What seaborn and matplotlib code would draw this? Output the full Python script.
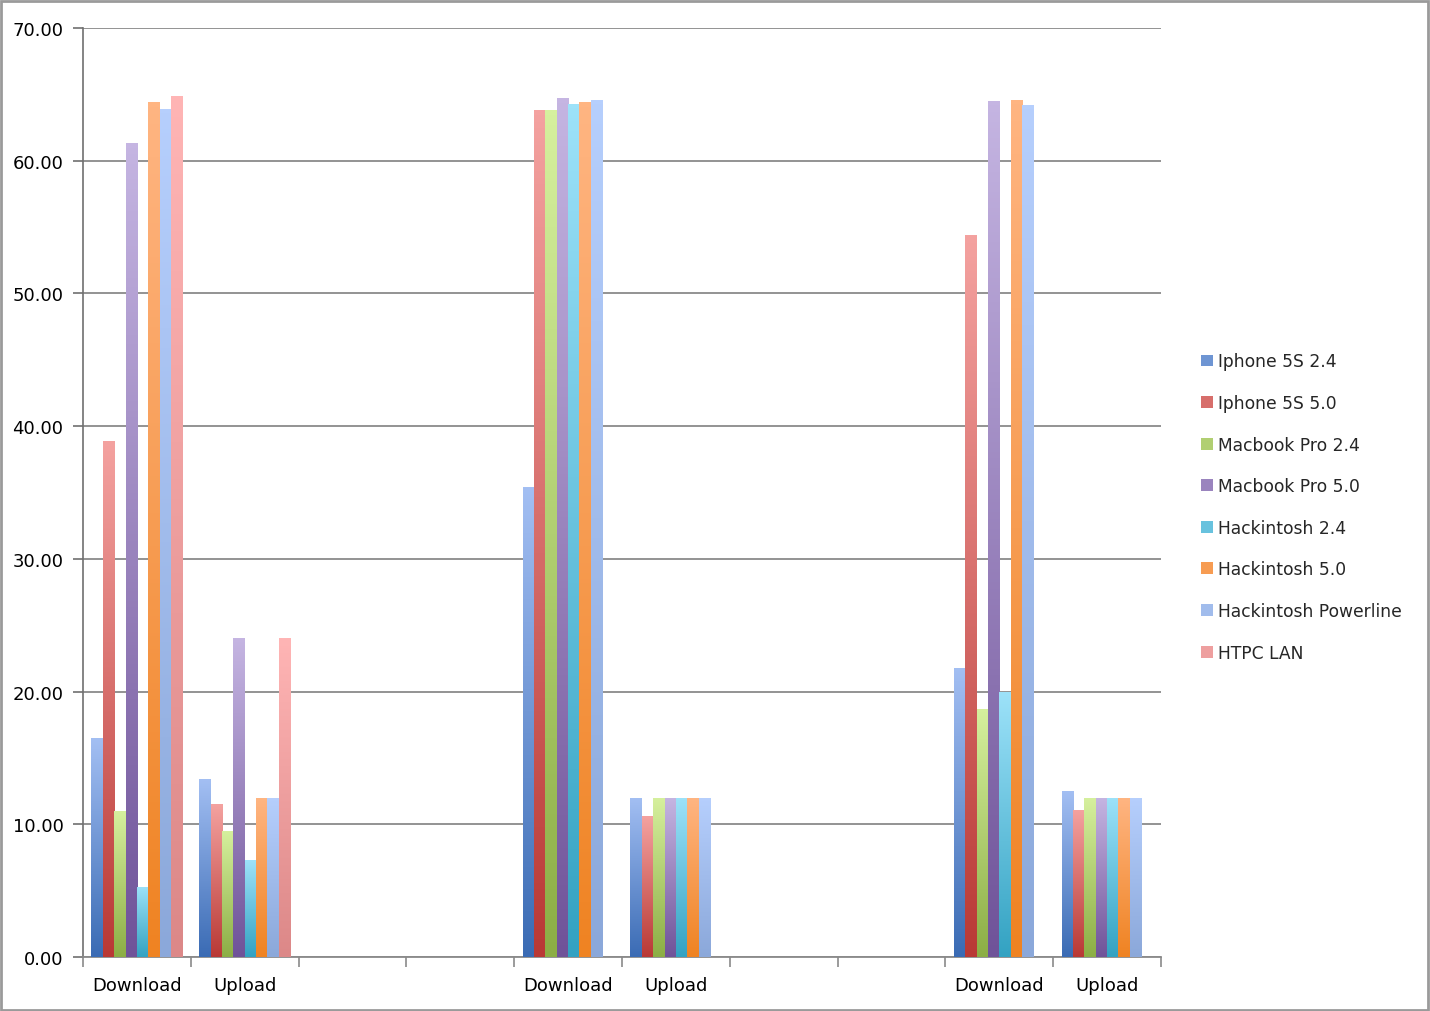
import numpy as np
import pandas as pd
import matplotlib
matplotlib.use("Agg")
import matplotlib.pyplot as plt
from matplotlib.colors import LinearSegmentedColormap, to_rgb
from matplotlib.patches import Patch, Rectangle
import seaborn as sns

nan = np.nan

# ---- data ----
categories = ["Download", "Upload", "", "", "Download", "Upload", "", "", "Download", "Upload"]
series = ["Iphone 5S 2.4", "Iphone 5S 5.0", "Macbook Pro 2.4", "Macbook Pro 5.0",
          "Hackintosh 2.4", "Hackintosh 5.0", "Hackintosh Powerline", "HTPC LAN"]
iphone_24 = [16.5, 13.4, nan, nan, 35.4, 12.0, nan, nan, 21.8, 12.5]
iphone_50 = [38.9, 11.5, nan, nan, 63.8, 10.6, nan, nan, 54.4, 11.1]
macbook_24 = [11.0, 9.5, nan, nan, 63.8, 12.0, nan, nan, 18.7, 12.0]
macbook_50 = [61.3, 24.0, nan, nan, 64.7, 12.0, nan, nan, 64.5, 12.0]
hack_24 = [5.3, 7.3, nan, nan, 64.3, 12.0, nan, nan, 20.0, 12.0]
hack_50 = [64.4, 12.0, nan, nan, 64.4, 12.0, nan, nan, 64.6, 12.0]
powerline = [63.9, 12.0, nan, nan, 64.6, 12.0, nan, nan, 64.2, 12.0]
htpc_lan = [64.9, 24.0, nan, nan, nan, nan, nan, nan, nan, nan]
y_ticks = [0, 10, 20, 30, 40, 50, 60, 70]

# colours: (top light, bottom dark)
grad_top = ["#a3bff3", "#f4a2a0", "#d6f09e", "#c5b5e2", "#9de2f9", "#ffb582", "#b6cffd", "#ffb5b5"]
grad_bot = ["#3a6bb4", "#b93935", "#8cae45", "#6f5399", "#33a2c2", "#ef8322", "#8ba8da", "#dc8888"]

all_values = [iphone_24, iphone_50, macbook_24, macbook_50, hack_24, hack_50, powerline, htpc_lan]
pos_keys = [f"c{i}" for i in range(len(categories))]
rows = []
for s, vals in zip(series, all_values):
    for k, v in zip(pos_keys, vals):
        rows.append({"pos": k, "series": s, "value": v})
df = pd.DataFrame(rows)

def mix(a, b, t=0.5):
    a, b = np.array(to_rgb(a)), np.array(to_rgb(b))
    return tuple(a * (1 - t) + b * t)

mid_cols = [mix(t, b, 0.5) for t, b in zip(grad_top, grad_bot)]

sns.set_style("white")
plt.rcParams["font.family"] = ["DejaVu Sans"]

fig = plt.figure(figsize=(14.3, 10.12), dpi=100)
ax = fig.add_axes([83 / 1430, 1 - 958 / 1012, (1161 - 83) / 1430, (958 - 29) / 1012])

sns.barplot(data=df, x="pos", y="value", hue="series", order=pos_keys, hue_order=series,
            palette=mid_cols, width=0.845, gap=0, dodge=True, errorbar=None,
            legend=False, ax=ax, saturation=1, linewidth=0)

ax.set_xlim(-0.5, len(categories) - 0.5)
ax.set_ylim(0, 70)

# gradient fill for each bar
grad = np.linspace(0, 1, 256).reshape(-1, 1)
for p in list(ax.patches):
    h = p.get_height()
    if not np.isfinite(h) or h <= 0:
        continue
    fc = np.array(p.get_facecolor()[:3])
    idx = int(np.argmin([np.sum((fc - np.array(c)) ** 2) for c in mid_cols]))
    cmap = LinearSegmentedColormap.from_list("g", [grad_bot[idx], grad_top[idx]])
    x0 = p.get_x()
    w = p.get_width()
    im = ax.imshow(grad, extent=[x0, x0 + w, 0, h], origin="lower", aspect="auto",
                   cmap=cmap, interpolation="bilinear", zorder=3)
    im.set_clip_path(p)
    p.set_zorder(2.9)

ax.set_xlim(-0.5, len(categories) - 0.5)
ax.set_ylim(0, 70)

# axes styling
ax.set_axisbelow(True)
ax.yaxis.grid(True, color="#8a8a8a", linewidth=1.3)
ax.xaxis.grid(False)
for side in ["top", "right"]:
    ax.spines[side].set_visible(False)
ax.spines["left"].set_color("#707070")
ax.spines["left"].set_linewidth(1.2)
ax.spines["bottom"].set_color("#8a8a8a")
ax.spines["bottom"].set_linewidth(1.3)

ax.set_yticks(y_ticks)
ax.set_yticklabels([f"{v:.2f}" for v in y_ticks])
ax.tick_params(axis="y", left=True, length=7, width=1.2, color="#707070", pad=7,
               labelsize=13, labelcolor="black")

ax.set_xticks(range(len(categories)))
ax.set_xticklabels(categories)
ax.set_xticks(np.arange(-0.5, len(categories), 1.0), minor=True)
ax.tick_params(axis="x", which="major", length=0, pad=14, labelsize=13, labelcolor="black")
ax.tick_params(axis="x", which="minor", bottom=True, length=7, width=1.2, color="#8a8a8a")
ax.set_xlabel("")
ax.set_ylabel("")

# legend
handles = [Patch(facecolor=c, edgecolor="none") for c in mid_cols]
fig.legend(handles, series, loc="center left", bbox_to_anchor=(1201 / 1430, 1 - 508 / 1012),
           frameon=False, fontsize=12.3, labelspacing=1.38, handlelength=0.7,
           handleheight=0.7, handletextpad=0.3, borderpad=0, borderaxespad=0)

# figure border
fig.patches.append(Rectangle((0.0005, 0.001), 0.998, 0.997, transform=fig.transFigure,
                             fill=False, edgecolor="#9a9a9a", linewidth=2))

fig.savefig("out.png", dpi=100)
